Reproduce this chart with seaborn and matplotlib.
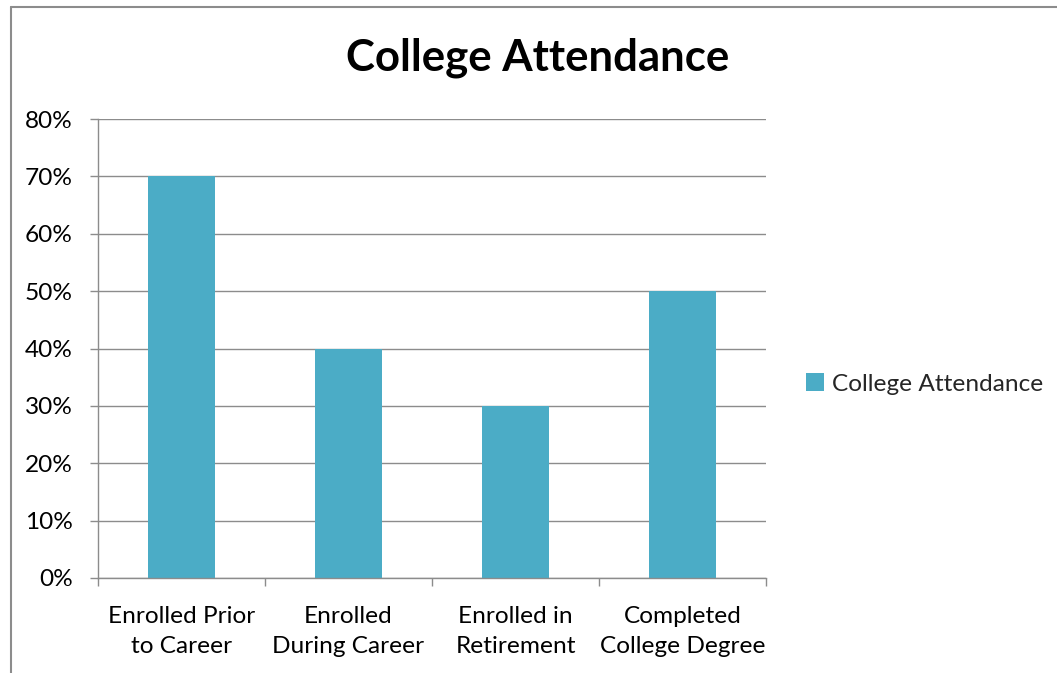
import matplotlib
matplotlib.use("Agg")
import matplotlib.pyplot as plt
import seaborn as sns
import pandas as pd
from matplotlib.lines import Line2D
from matplotlib.patches import Patch
from matplotlib.ticker import FixedLocator, PercentFormatter

categories = ["Enrolled Prior\nto Career", "Enrolled\nDuring Career",
              "Enrolled in\nRetirement", "Completed\nCollege Degree"]
values = [70, 40, 30, 50]
series_name = "College Attendance"
y_ticks = [0, 10, 20, 30, 40, 50, 60, 70, 80]

bar_color = "#4BACC6"
line_gray = "#8C8C8C"
label_size = 17.6

sns.set_theme(style="white")
plt.rcParams["font.family"] = ["Lato", "DejaVu Sans"]

W, H = 1057, 673
fig = plt.figure(figsize=(W / 100, H / 100), dpi=100)
fig.patch.set_facecolor("white")

ax = fig.add_axes([98 / W, 1 - 578 / H, (766 - 98) / W, (578 - 119) / H])

df = pd.DataFrame({"category": categories, "value": values})
sns.barplot(data=df, x="category", y="value", color=bar_color,
            width=0.4, saturation=1, linewidth=0, ax=ax)

ax.set_xlim(-0.5, len(categories) - 0.5)
ax.set_ylim(0, 80)
ax.set_yticks(y_ticks)
ax.yaxis.set_major_formatter(PercentFormatter(decimals=0))
ax.set_xlabel("")
ax.set_ylabel("")

ax.yaxis.grid(True, color=line_gray, linewidth=1)
ax.set_axisbelow(True)
for side in ("top", "right"):
    ax.spines[side].set_visible(False)
for side in ("left", "bottom"):
    ax.spines[side].set_color(line_gray)
    ax.spines[side].set_linewidth(1)

# category boundary ticks on the x axis, labels centred without ticks
ax.xaxis.set_minor_locator(FixedLocator([i - 0.5 for i in range(len(categories) + 1)]))
ax.tick_params(axis="x", which="major", length=0, pad=20, labelsize=label_size, colors="black")
ax.tick_params(axis="x", which="minor", bottom=True, length=6, width=1, color=line_gray, direction="out")
ax.tick_params(axis="y", which="major", left=True, length=6, width=1, color=line_gray,
               direction="out", pad=12, labelsize=label_size, labelcolor="black")
for lbl in ax.get_xticklabels():
    lbl.set_linespacing(1.52)

fig.text(538 / W, 1 - 58 / H, "College Attendance", ha="center", va="center",
         fontsize=31.5, fontweight="bold", color="black")

handles = [Patch(facecolor=bar_color, edgecolor="none", label=series_name)]
fig.legend(handles=handles, loc="center left", bbox_to_anchor=(806 / W, 1 - 384 / H),
           frameon=False, fontsize=label_size, handlelength=0.75, handleheight=0.75,
           handletextpad=0.3, borderaxespad=0, borderpad=0)

# chart frame
fig.add_artist(Line2D([10.5 / W, 10.5 / W], [0, 1 - 6.5 / H], transform=fig.transFigure,
                      color=line_gray, linewidth=1.5))
fig.add_artist(Line2D([10.5 / W, 1], [1 - 6.5 / H, 1 - 6.5 / H], transform=fig.transFigure,
                      color=line_gray, linewidth=1.5))

fig.savefig("out.png", dpi=100, facecolor="white")
